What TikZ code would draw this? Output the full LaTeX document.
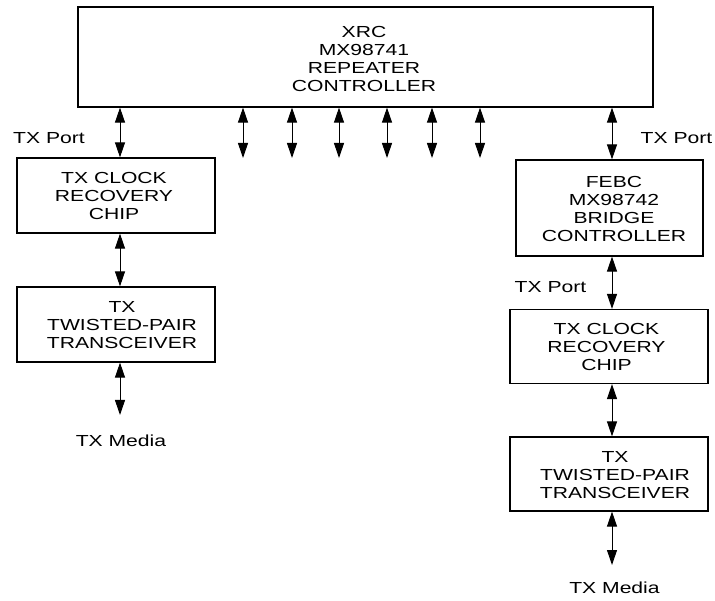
\documentclass[tikz,border=0pt]{standalone}
\usepackage{fontspec}
\setmainfont[FakeStretch=1.32]{Liberation Sans}
\usetikzlibrary{arrows.meta,calc}
\begin{document}
\begin{tikzpicture}[x=1pt,y=-1pt,
  box/.style={draw,line width=1.2pt,inner sep=0pt},
  txt/.style={align=center,font=\fontsize{16}{18}\selectfont,inner sep=0pt},
  lbl/.style={font=\fontsize{16}{18}\selectfont,inner sep=0pt},
  link/.style={{Triangle[width=10pt,length=15pt]}-{Triangle[width=10pt,length=15pt]},line width=1pt}]
\useasboundingbox (0,0) rectangle (715,601);
% boxes
\node[box,minimum width=575pt,minimum height=100pt] (top) at (365.5,57) {};
\node[txt] (topt) at (364,59) {XRC\\MX98741\\REPEATER\\CONTROLLER};
\node[box,minimum width=198pt,minimum height=75pt] (L1) at (116,195.5) {};
\node[txt] (L1t) at (114,196) {TX CLOCK\\RECOVERY\\CHIP};
\node[box,minimum width=198pt,minimum height=75pt] (L2) at (116,324.5) {};
\node[txt] (L2t) at (122,325) {TX\\TWISTED-PAIR\\TRANSCEIVER};
\node[box,minimum width=187pt,minimum height=96pt] (F) at (609.5,208) {};
\node[txt] (Ft) at (614,209) {FEBC\\MX98742\\BRIDGE\\CONTROLLER};
\node[box,minimum width=198pt,minimum height=74pt] (R2) at (609,346.5) {};
\node[txt] (R2t) at (606.5,347) {TX CLOCK\\RECOVERY\\CHIP};
\node[box,minimum width=198pt,minimum height=74pt] (R3) at (609,474) {};
\node[txt] (R3t) at (615,475) {TX\\TWISTED-PAIR\\TRANSCEIVER};
% labels
\node[lbl] (lp1) at (49,138) {TX Port};
\node[lbl] (lp2) at (676.5,138) {TX Port};
\node[lbl] (lp3) at (550.5,287.5) {TX Port};
\node[lbl] (lm1) at (121,441) {TX Media};
\node[lbl] (lm2) at (614.5,588) {TX Media};
% columns
\coordinate (cL) at (120,0);
\coordinate (cR) at (612,0);
\coordinate (eL) at (120,415);
\coordinate (eR) at (612,565);
\coordinate (p1) at (243,158);
\coordinate (p2) at (292,158);
\coordinate (p3) at (339,158);
\coordinate (p4) at (387,158);
\coordinate (p5) at (432,158);
\coordinate (p6) at (480,158);
% connectors
\draw[link] (top.south -| cL) -- (L1.north -| cL);
\draw[link] (L1.south -| cL) -- (L2.north -| cL);
\draw[link] (L2.south -| cL) -- (eL);
\foreach \p in {p1,p2,p3,p4,p5,p6}{\draw[link] (top.south -| \p) -- (\p);}
\draw[link] (top.south -| cR) -- (F.north -| cR);
\draw[link] (F.south -| cR) -- (R2.north -| cR);
\draw[link] (R2.south -| cR) -- (R3.north -| cR);
\draw[link] (R3.south -| cR) -- (eR);
\end{tikzpicture}
\end{document}
